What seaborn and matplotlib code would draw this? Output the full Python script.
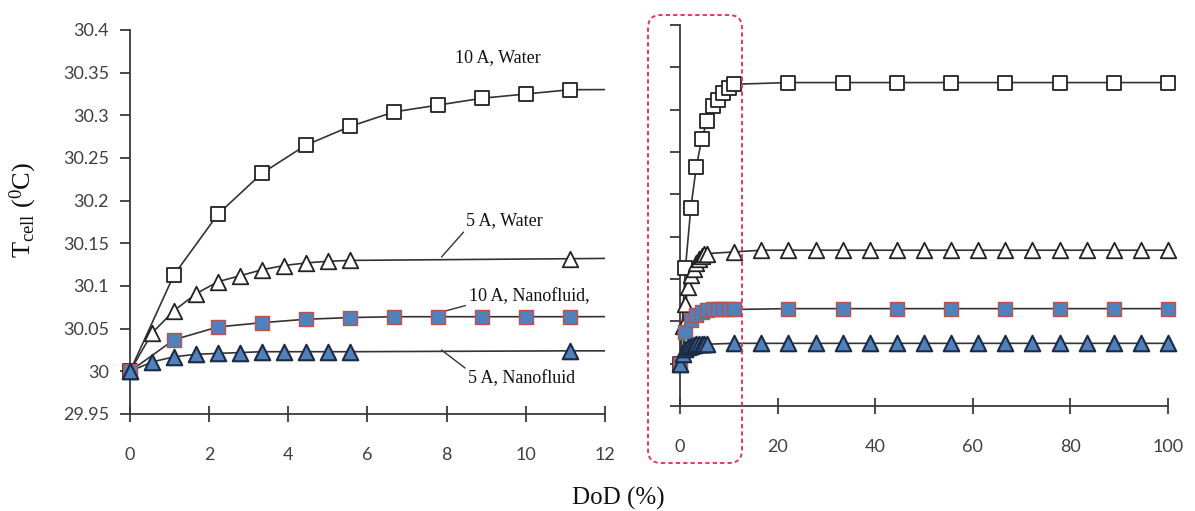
import numpy as np
import pandas as pd
import matplotlib
matplotlib.use("Agg")
import matplotlib.pyplot as plt
import seaborn as sns
from matplotlib.patches import FancyBboxPatch

# Depth of discharge (%) at which each series was sampled
dod_squares = [0, 1.11, 2.22, 3.33, 4.44, 5.56, 6.67, 7.78, 8.89, 10.0, 11.11,
               22.22, 33.33, 44.44, 55.56, 66.67, 77.78, 88.89, 100.0]
dod_triangles = [0, 0.56, 1.11, 1.67, 2.22, 2.78, 3.33, 3.89, 4.44, 5.0, 5.56,
                 11.11, 16.67, 22.22, 27.78, 33.33, 38.89, 44.44, 50.0, 55.56,
                 61.11, 66.67, 72.22, 77.78, 83.33, 88.89, 94.44, 100.0]

# Cell temperature (deg C)
t_water_10a = [30.000, 30.113, 30.184, 30.232, 30.265, 30.287, 30.304, 30.312,
               30.320, 30.325, 30.330, 30.332, 30.332, 30.332, 30.332, 30.332,
               30.332, 30.332, 30.332]
t_water_5a = [30.000, 30.045, 30.071, 30.091, 30.105, 30.112, 30.119, 30.124,
              30.127, 30.129, 30.130, 30.132, 30.134, 30.134, 30.134, 30.134,
              30.134, 30.134, 30.134, 30.134, 30.134, 30.134, 30.134, 30.134,
              30.134, 30.134, 30.134, 30.134]
t_nano_10a = [30.000, 30.037, 30.052, 30.057, 30.061, 30.063, 30.064, 30.064,
              30.064, 30.064, 30.064, 30.065, 30.065, 30.065, 30.065, 30.065,
              30.065, 30.065, 30.065]
t_nano_5a = [30.000, 30.011, 30.017, 30.020, 30.021, 30.022, 30.023, 30.023,
             30.023, 30.023, 30.023, 30.024, 30.024, 30.024, 30.024, 30.024,
             30.024, 30.024, 30.024, 30.024, 30.024, 30.024, 30.024, 30.024,
             30.024, 30.024, 30.024, 30.024]

series_labels = ["10 A, Water", "5 A, Water", "10 A, Nanofluid,", "5 A, Nanofluid"]

y_ticks = [29.95, 30.0, 30.05, 30.1, 30.15, 30.2, 30.25, 30.3, 30.35, 30.4]
y_tick_labels = ["29.95", "30", "30.05", "30.1", "30.15", "30.2", "30.25",
                 "30.3", "30.35", "30.4"]
x_ticks_zoom = [0, 2, 4, 6, 8, 10, 12]
x_ticks_full = [0, 20, 40, 60, 80, 100]

sns.set_theme(style="white")
plt.rcParams["font.family"] = ["Lato", "DejaVu Sans"]
plt.rcParams["mathtext.fontset"] = "custom"
plt.rcParams["mathtext.rm"] = "Liberation Serif"
plt.rcParams["mathtext.it"] = "Liberation Serif:italic"

SERIF = ["Liberation Serif", "DejaVu Serif"]
AXIS_COLOR = "#3a3a3a"
TICK_TEXT = "#404040"
BLUE = "#4F81BD"

styles = [
    dict(marker="s", s=115, facecolor="white", edgecolor="#222222", linewidth=1.3),
    dict(marker="^", s=125, facecolor="white", edgecolor="#222222", linewidth=1.3),
    dict(marker="s", s=115, facecolor=BLUE, edgecolor="#C0504D", linewidth=1.0),
    dict(marker="^", s=125, facecolor=BLUE, edgecolor="#1c2a44", linewidth=1.5),
]
series = [
    (dod_squares, t_water_10a),
    (dod_triangles, t_water_5a),
    (dod_squares, t_nano_10a),
    (dod_triangles, t_nano_5a),
]

fig = plt.figure(figsize=(11.95, 5.11), dpi=100)
ax_l = fig.add_axes([130 / 1195, 97 / 511, 475 / 1195, 384 / 511])
ax_r = fig.add_axes([680 / 1195, 105 / 511, 488 / 1195, 381 / 511])


def draw_series(ax, xmax):
    for i, ((xs, ys), st) in enumerate(zip(series, styles)):
        x = np.asarray(xs)
        y = np.asarray(ys)
        sns.lineplot(x=x, y=y, ax=ax, color="#333333", lw=1.2, sort=False,
                     estimator=None, zorder=2 + i)
        keep = x <= xmax
        sns.scatterplot(x=x[keep], y=y[keep], ax=ax, zorder=10 + i,
                        clip_on=False, legend=False, **st)


def style_axes(ax, xlim, xticks, show_ylabels):
    ax.set_xlim(*xlim)
    ax.set_ylim(29.95, 30.4)
    ax.set_xticks(xticks)
    ax.set_xticklabels([str(t) for t in xticks])
    ax.set_yticks(y_ticks)
    ax.set_yticklabels(y_tick_labels if show_ylabels else [""] * len(y_ticks))
    for side in ("top", "right"):
        ax.spines[side].set_visible(False)
    for side in ("left", "bottom"):
        ax.spines[side].set_color(AXIS_COLOR)
        ax.spines[side].set_linewidth(1.3)
    ax.tick_params(axis="x", direction="inout", length=11, width=1.3,
                   color=AXIS_COLOR, pad=18, labelsize=13, labelcolor=TICK_TEXT)
    ax.tick_params(axis="y", direction="out", length=7, width=1.3,
                   color=AXIS_COLOR, pad=8, labelsize=13, labelcolor=TICK_TEXT,
                   left=True)
    ax.tick_params(axis="x", bottom=True)
    ax.set_xlabel("")
    ax.set_ylabel("")
    ax.set_facecolor("none")


draw_series(ax_l, 12)
draw_series(ax_r, 100)
style_axes(ax_l, (0, 12), x_ticks_zoom, True)
style_axes(ax_r, (0, 100), x_ticks_full, False)

# Series annotations with leader lines
ann_kw = dict(fontsize=13, family=SERIF, color="#111111", ha="center", va="center")
lead = dict(arrowstyle="-", color="#333333", lw=1.0, shrinkA=0, shrinkB=0)
ax_l.text(9.29, 30.368, series_labels[0], **ann_kw)
ax_l.annotate(series_labels[1], xy=(7.87, 30.134), xytext=(9.47, 30.177),
              arrowprops=dict(relpos=(0.0, 0.0), **lead), **ann_kw)
ax_l.annotate(series_labels[2], xy=(7.75, 30.068), xytext=(10.08, 30.088),
              arrowprops=dict(relpos=(0.0, 0.0), **lead), **ann_kw)
ax_l.annotate(series_labels[3], xy=(7.87, 30.025), xytext=(9.9, 29.991),
              arrowprops=dict(relpos=(0.0, 1.0), **lead), **ann_kw)

# Axis titles
fig.text(23 / 1195, 1 - 210 / 511, r"T$_{\mathrm{cell}}$ ($^{\mathrm{0}}$C)",
         fontsize=19, family=SERIF, color="#111111", rotation=90,
         ha="center", va="center")
fig.text(618 / 1195, 1 - 498 / 511, "DoD (%)", fontsize=18, family=SERIF,
         color="#111111", ha="center", va="center")

# Dashed frame around the early-discharge region of the full-range panel
frame = FancyBboxPatch((6.48, 0.48), 0.94, 4.48,
                       boxstyle="round,pad=0,rounding_size=0.13",
                       transform=fig.dpi_scale_trans, fill=False,
                       edgecolor="#E23B55", linewidth=1.4,
                       linestyle=(0, (2.2, 1.6)), zorder=20)
fig.patches.append(frame)

fig.savefig("out.png", dpi=100)
